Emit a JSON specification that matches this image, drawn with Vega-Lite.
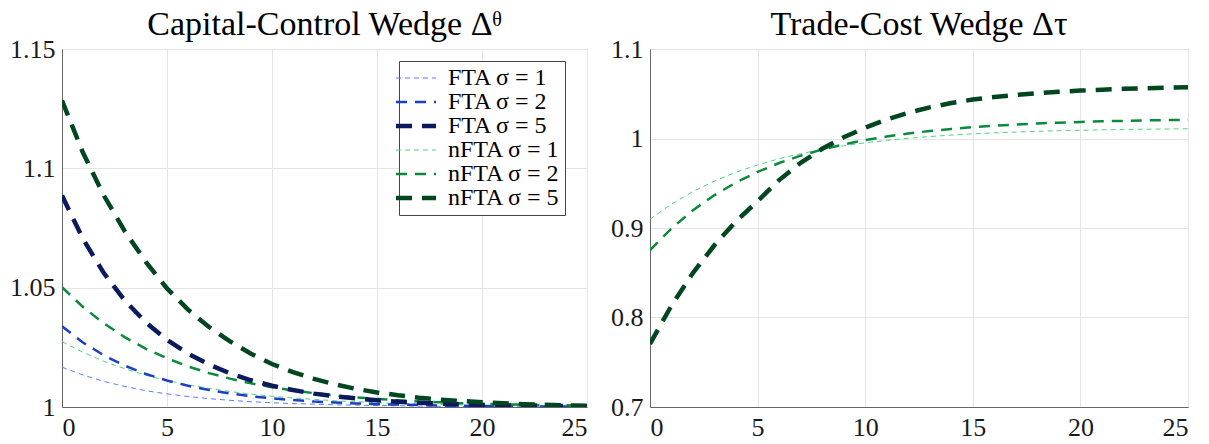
{
  "$schema": "https://vega.github.io/schema/vega-lite/v6.json",
  "padding": {"left": 9, "top": 7, "right": 10, "bottom": 0},
  "spacing": 22,
  "config": {
    "font": "Liberation Serif",
    "view": {"stroke": "#666", "strokeWidth": 1},
    "axis": {"domainColor": "#666", "gridColor": "#e4e4e4", "ticks": false, "labelFont": "Liberation Serif", "labelFontSize": 26, "labelColor": "#1a1a1a", "labelPadding": 7},
    "axisX": {"labelPadding": 7},
    "title": {"font": "Liberation Serif", "fontSize": 34, "fontWeight": "normal", "color": "#000", "baseline": "alphabetic", "offset": -6}
  },
  "datasets": {
    "cc": [
      {"series":"FTA σ = 1","t":0,"v":1.0167},{"series":"FTA σ = 1","t":1,"v":1.0134},{"series":"FTA σ = 1","t":2,"v":1.0107},{"series":"FTA σ = 1","t":3,"v":1.0086},{"series":"FTA σ = 1","t":4,"v":1.0068},{"series":"FTA σ = 1","t":5,"v":1.0055},{"series":"FTA σ = 1","t":6,"v":1.0044},{"series":"FTA σ = 1","t":7,"v":1.0035},{"series":"FTA σ = 1","t":8,"v":1.0028},{"series":"FTA σ = 1","t":9,"v":1.0022},{"series":"FTA σ = 1","t":10,"v":1.0018},{"series":"FTA σ = 1","t":11,"v":1.0014},{"series":"FTA σ = 1","t":12,"v":1.0012},{"series":"FTA σ = 1","t":13,"v":1.0009},{"series":"FTA σ = 1","t":14,"v":1.0008},{"series":"FTA σ = 1","t":15,"v":1.0006},{"series":"FTA σ = 1","t":16,"v":1.0005},{"series":"FTA σ = 1","t":17,"v":1.0004},{"series":"FTA σ = 1","t":18,"v":1.0003},{"series":"FTA σ = 1","t":19,"v":1.0002},{"series":"FTA σ = 1","t":20,"v":1.0002},{"series":"FTA σ = 1","t":21,"v":1.0002},{"series":"FTA σ = 1","t":22,"v":1.0001},{"series":"FTA σ = 1","t":23,"v":1.0001},{"series":"FTA σ = 1","t":24,"v":1.0001},{"series":"FTA σ = 1","t":25,"v":1.0001},
      {"series":"FTA σ = 2","t":0,"v":1.0338},{"series":"FTA σ = 2","t":1,"v":1.0270},{"series":"FTA σ = 2","t":2,"v":1.0216},{"series":"FTA σ = 2","t":3,"v":1.0173},{"series":"FTA σ = 2","t":4,"v":1.0138},{"series":"FTA σ = 2","t":5,"v":1.0111},{"series":"FTA σ = 2","t":6,"v":1.0089},{"series":"FTA σ = 2","t":7,"v":1.0071},{"series":"FTA σ = 2","t":8,"v":1.0057},{"series":"FTA σ = 2","t":9,"v":1.0045},{"series":"FTA σ = 2","t":10,"v":1.0036},{"series":"FTA σ = 2","t":11,"v":1.0029},{"series":"FTA σ = 2","t":12,"v":1.0023},{"series":"FTA σ = 2","t":13,"v":1.0019},{"series":"FTA σ = 2","t":14,"v":1.0015},{"series":"FTA σ = 2","t":15,"v":1.0012},{"series":"FTA σ = 2","t":16,"v":1.0010},{"series":"FTA σ = 2","t":17,"v":1.0008},{"series":"FTA σ = 2","t":18,"v":1.0006},{"series":"FTA σ = 2","t":19,"v":1.0005},{"series":"FTA σ = 2","t":20,"v":1.0004},{"series":"FTA σ = 2","t":21,"v":1.0003},{"series":"FTA σ = 2","t":22,"v":1.0002},{"series":"FTA σ = 2","t":23,"v":1.0002},{"series":"FTA σ = 2","t":24,"v":1.0002},{"series":"FTA σ = 2","t":25,"v":1.0001},
      {"series":"FTA σ = 5","t":0,"v":1.0886},{"series":"FTA σ = 5","t":1,"v":1.0704},{"series":"FTA σ = 5","t":2,"v":1.0560},{"series":"FTA σ = 5","t":3,"v":1.0445},{"series":"FTA σ = 5","t":4,"v":1.0354},{"series":"FTA σ = 5","t":5,"v":1.0281},{"series":"FTA σ = 5","t":6,"v":1.0224},{"series":"FTA σ = 5","t":7,"v":1.0178},{"series":"FTA σ = 5","t":8,"v":1.0141},{"series":"FTA σ = 5","t":9,"v":1.0112},{"series":"FTA σ = 5","t":10,"v":1.0089},{"series":"FTA σ = 5","t":11,"v":1.0071},{"series":"FTA σ = 5","t":12,"v":1.0056},{"series":"FTA σ = 5","t":13,"v":1.0045},{"series":"FTA σ = 5","t":14,"v":1.0036},{"series":"FTA σ = 5","t":15,"v":1.0028},{"series":"FTA σ = 5","t":16,"v":1.0022},{"series":"FTA σ = 5","t":17,"v":1.0018},{"series":"FTA σ = 5","t":18,"v":1.0014},{"series":"FTA σ = 5","t":19,"v":1.0011},{"series":"FTA σ = 5","t":20,"v":1.0009},{"series":"FTA σ = 5","t":21,"v":1.0007},{"series":"FTA σ = 5","t":22,"v":1.0006},{"series":"FTA σ = 5","t":23,"v":1.0005},{"series":"FTA σ = 5","t":24,"v":1.0004},{"series":"FTA σ = 5","t":25,"v":1.0003},
      {"series":"nFTA σ = 1","t":0,"v":1.0274},{"series":"nFTA σ = 1","t":1,"v":1.0229},{"series":"nFTA σ = 1","t":2,"v":1.0191},{"series":"nFTA σ = 1","t":3,"v":1.0160},{"series":"nFTA σ = 1","t":4,"v":1.0133},{"series":"nFTA σ = 1","t":5,"v":1.0111},{"series":"nFTA σ = 1","t":6,"v":1.0093},{"series":"nFTA σ = 1","t":7,"v":1.0078},{"series":"nFTA σ = 1","t":8,"v":1.0065},{"series":"nFTA σ = 1","t":9,"v":1.0054},{"series":"nFTA σ = 1","t":10,"v":1.0045},{"series":"nFTA σ = 1","t":11,"v":1.0038},{"series":"nFTA σ = 1","t":12,"v":1.0032},{"series":"nFTA σ = 1","t":13,"v":1.0026},{"series":"nFTA σ = 1","t":14,"v":1.0022},{"series":"nFTA σ = 1","t":15,"v":1.0018},{"series":"nFTA σ = 1","t":16,"v":1.0015},{"series":"nFTA σ = 1","t":17,"v":1.0013},{"series":"nFTA σ = 1","t":18,"v":1.0011},{"series":"nFTA σ = 1","t":19,"v":1.0009},{"series":"nFTA σ = 1","t":20,"v":1.0008},{"series":"nFTA σ = 1","t":21,"v":1.0006},{"series":"nFTA σ = 1","t":22,"v":1.0005},{"series":"nFTA σ = 1","t":23,"v":1.0004},{"series":"nFTA σ = 1","t":24,"v":1.0004},{"series":"nFTA σ = 1","t":25,"v":1.0003},
      {"series":"nFTA σ = 2","t":0,"v":1.0502},{"series":"nFTA σ = 2","t":1,"v":1.0419},{"series":"nFTA σ = 2","t":2,"v":1.0350},{"series":"nFTA σ = 2","t":3,"v":1.0292},{"series":"nFTA σ = 2","t":4,"v":1.0244},{"series":"nFTA σ = 2","t":5,"v":1.0204},{"series":"nFTA σ = 2","t":6,"v":1.0170},{"series":"nFTA σ = 2","t":7,"v":1.0142},{"series":"nFTA σ = 2","t":8,"v":1.0119},{"series":"nFTA σ = 2","t":9,"v":1.0099},{"series":"nFTA σ = 2","t":10,"v":1.0083},{"series":"nFTA σ = 2","t":11,"v":1.0069},{"series":"nFTA σ = 2","t":12,"v":1.0058},{"series":"nFTA σ = 2","t":13,"v":1.0048},{"series":"nFTA σ = 2","t":14,"v":1.0040},{"series":"nFTA σ = 2","t":15,"v":1.0034},{"series":"nFTA σ = 2","t":16,"v":1.0028},{"series":"nFTA σ = 2","t":17,"v":1.0023},{"series":"nFTA σ = 2","t":18,"v":1.0020},{"series":"nFTA σ = 2","t":19,"v":1.0016},{"series":"nFTA σ = 2","t":20,"v":1.0014},{"series":"nFTA σ = 2","t":21,"v":1.0011},{"series":"nFTA σ = 2","t":22,"v":1.0010},{"series":"nFTA σ = 2","t":23,"v":1.0008},{"series":"nFTA σ = 2","t":24,"v":1.0007},{"series":"nFTA σ = 2","t":25,"v":1.0005},
      {"series":"nFTA σ = 5","t":0,"v":1.1284},{"series":"nFTA σ = 5","t":1,"v":1.1065},{"series":"nFTA σ = 5","t":2,"v":1.0885},{"series":"nFTA σ = 5","t":3,"v":1.0735},{"series":"nFTA σ = 5","t":4,"v":1.0607},{"series":"nFTA σ = 5","t":5,"v":1.0497},{"series":"nFTA σ = 5","t":6,"v":1.0408},{"series":"nFTA σ = 5","t":7,"v":1.0335},{"series":"nFTA σ = 5","t":8,"v":1.0275},{"series":"nFTA σ = 5","t":9,"v":1.0223},{"series":"nFTA σ = 5","t":10,"v":1.0180},{"series":"nFTA σ = 5","t":11,"v":1.0146},{"series":"nFTA σ = 5","t":12,"v":1.0118},{"series":"nFTA σ = 5","t":13,"v":1.0095},{"series":"nFTA σ = 5","t":14,"v":1.0076},{"series":"nFTA σ = 5","t":15,"v":1.0061},{"series":"nFTA σ = 5","t":16,"v":1.0049},{"series":"nFTA σ = 5","t":17,"v":1.0039},{"series":"nFTA σ = 5","t":18,"v":1.0031},{"series":"nFTA σ = 5","t":19,"v":1.0025},{"series":"nFTA σ = 5","t":20,"v":1.0020},{"series":"nFTA σ = 5","t":21,"v":1.0016},{"series":"nFTA σ = 5","t":22,"v":1.0012},{"series":"nFTA σ = 5","t":23,"v":1.0009},{"series":"nFTA σ = 5","t":24,"v":1.0007},{"series":"nFTA σ = 5","t":25,"v":1.0005}
    ],
    "tc": [
      {"series":"nFTA σ = 1","t":0,"v":0.9098},{"series":"nFTA σ = 1","t":1,"v":0.9267},{"series":"nFTA σ = 1","t":2,"v":0.9408},{"series":"nFTA σ = 1","t":3,"v":0.9525},{"series":"nFTA σ = 1","t":4,"v":0.9623},{"series":"nFTA σ = 1","t":5,"v":0.9705},{"series":"nFTA σ = 1","t":6,"v":0.9774},{"series":"nFTA σ = 1","t":7,"v":0.9831},{"series":"nFTA σ = 1","t":8,"v":0.9878},{"series":"nFTA σ = 1","t":9,"v":0.9918},{"series":"nFTA σ = 1","t":10,"v":0.9952},{"series":"nFTA σ = 1","t":11,"v":0.9979},{"series":"nFTA σ = 1","t":12,"v":1.0003},{"series":"nFTA σ = 1","t":13,"v":1.0022},{"series":"nFTA σ = 1","t":14,"v":1.0038},{"series":"nFTA σ = 1","t":15,"v":1.0052},{"series":"nFTA σ = 1","t":16,"v":1.0063},{"series":"nFTA σ = 1","t":17,"v":1.0072},{"series":"nFTA σ = 1","t":18,"v":1.0080},{"series":"nFTA σ = 1","t":19,"v":1.0087},{"series":"nFTA σ = 1","t":20,"v":1.0092},{"series":"nFTA σ = 1","t":21,"v":1.0097},{"series":"nFTA σ = 1","t":22,"v":1.0101},{"series":"nFTA σ = 1","t":23,"v":1.0104},{"series":"nFTA σ = 1","t":24,"v":1.0106},{"series":"nFTA σ = 1","t":25,"v":1.0109},
      {"series":"nFTA σ = 2","t":0,"v":0.8753},{"series":"nFTA σ = 2","t":1,"v":0.8996},{"series":"nFTA σ = 2","t":2,"v":0.9199},{"series":"nFTA σ = 2","t":3,"v":0.9368},{"series":"nFTA σ = 2","t":4,"v":0.9509},{"series":"nFTA σ = 2","t":5,"v":0.9627},{"series":"nFTA σ = 2","t":6,"v":0.9726},{"series":"nFTA σ = 2","t":7,"v":0.9808},{"series":"nFTA σ = 2","t":8,"v":0.9877},{"series":"nFTA σ = 2","t":9,"v":0.9935},{"series":"nFTA σ = 2","t":10,"v":0.9982},{"series":"nFTA σ = 2","t":11,"v":1.0022},{"series":"nFTA σ = 2","t":12,"v":1.0056},{"series":"nFTA σ = 2","t":13,"v":1.0084},{"series":"nFTA σ = 2","t":14,"v":1.0107},{"series":"nFTA σ = 2","t":15,"v":1.0126},{"series":"nFTA σ = 2","t":16,"v":1.0143},{"series":"nFTA σ = 2","t":17,"v":1.0156},{"series":"nFTA σ = 2","t":18,"v":1.0168},{"series":"nFTA σ = 2","t":19,"v":1.0177},{"series":"nFTA σ = 2","t":20,"v":1.0185},{"series":"nFTA σ = 2","t":21,"v":1.0192},{"series":"nFTA σ = 2","t":22,"v":1.0197},{"series":"nFTA σ = 2","t":23,"v":1.0202},{"series":"nFTA σ = 2","t":24,"v":1.0206},{"series":"nFTA σ = 2","t":25,"v":1.0209},
      {"series":"nFTA σ = 5","t":0,"v":0.7705},{"series":"nFTA σ = 5","t":1,"v":0.8134},{"series":"nFTA σ = 5","t":2,"v":0.8499},{"series":"nFTA σ = 5","t":3,"v":0.8810},{"series":"nFTA σ = 5","t":4,"v":0.9075},{"series":"nFTA σ = 5","t":5,"v":0.9300},{"series":"nFTA σ = 5","t":6,"v":0.9535},{"series":"nFTA σ = 5","t":7,"v":0.9728},{"series":"nFTA σ = 5","t":8,"v":0.9885},{"series":"nFTA σ = 5","t":9,"v":1.0014},{"series":"nFTA σ = 5","t":10,"v":1.0120},{"series":"nFTA σ = 5","t":11,"v":1.0213},{"series":"nFTA σ = 5","t":12,"v":1.0288},{"series":"nFTA σ = 5","t":13,"v":1.0348},{"series":"nFTA σ = 5","t":14,"v":1.0396},{"series":"nFTA σ = 5","t":15,"v":1.0435},{"series":"nFTA σ = 5","t":16,"v":1.0463},{"series":"nFTA σ = 5","t":17,"v":1.0487},{"series":"nFTA σ = 5","t":18,"v":1.0506},{"series":"nFTA σ = 5","t":19,"v":1.0522},{"series":"nFTA σ = 5","t":20,"v":1.0535},{"series":"nFTA σ = 5","t":21,"v":1.0546},{"series":"nFTA σ = 5","t":22,"v":1.0555},{"series":"nFTA σ = 5","t":23,"v":1.0562},{"series":"nFTA σ = 5","t":24,"v":1.0568},{"series":"nFTA σ = 5","t":25,"v":1.0573}
    ]
  },
  "resolve": {
    "scale": {"color": "independent", "strokeDash": "independent"},
    "legend": {"color": "independent", "strokeDash": "independent"}
  },
  "hconcat": [
    {
      "width": 525,
      "height": 358,
      "title": {"text": "Capital-Control Wedge Δᶿ"},
      "data": {"name": "cc"},
      "encoding": {
        "x": {"field": "t", "type": "quantitative", "scale": {"domain": [0, 25], "nice": false}, "axis": {"values": [0, 5, 10, 15, 20, 25], "title": null}},
        "y": {"field": "v", "type": "quantitative", "scale": {"domain": [1, 1.15], "nice": false, "zero": false}, "axis": {"values": [1, 1.05, 1.1, 1.15], "format": "~f", "title": null}},
        "color": {"field": "series", "type": "nominal",
          "scale": {"domain": ["FTA σ = 1", "FTA σ = 2", "FTA σ = 5", "nFTA σ = 1", "nFTA σ = 2", "nFTA σ = 5"], "range": ["#5b7cff", "#1d3fc4", "#0a1a5c", "#4fd37f", "#0c8a3c", "#00461f"]},
          "legend": {"orient": "none", "legendX": 337, "legendY": 12, "title": null, "fillColor": "white", "strokeColor": "#444", "padding": 5, "symbolType": "stroke", "symbolSize": 1600, "symbolStrokeWidth": 2.5, "labelFontSize": 24, "labelFont": "Liberation Serif", "labelColor": "#000", "rowPadding": -9, "labelOffset": 20,
            "encode": {"symbols": {"update": {"strokeWidth": {"signal": "datum.index % 3 == 2 ? 4.5 : (datum.index % 3 == 1 ? 2.5 : 1)"}}}}}},
        "strokeDash": {"field": "series", "type": "nominal",
          "scale": {"domain": ["FTA σ = 1", "FTA σ = 2", "FTA σ = 5", "nFTA σ = 1", "nFTA σ = 2", "nFTA σ = 5"], "range": [[5, 4], [11, 8], [16, 10], [5, 4], [11, 8], [16, 10]]}}
      },
      "layer": [
        {"transform": [{"filter": {"field": "series", "oneOf": ["FTA σ = 1", "nFTA σ = 1"]}}], "mark": {"type": "line", "clip": true, "strokeWidth": 1}},
        {"transform": [{"filter": {"field": "series", "oneOf": ["FTA σ = 2", "nFTA σ = 2"]}}], "mark": {"type": "line", "clip": true, "strokeWidth": 2.5}},
        {"transform": [{"filter": {"field": "series", "oneOf": ["FTA σ = 5", "nFTA σ = 5"]}}], "mark": {"type": "line", "clip": true, "strokeWidth": 4.5}}
      ]
    },
    {
      "width": 538,
      "height": 358,
      "title": {"text": "Trade-Cost Wedge Δτ"},
      "data": {"name": "tc"},
      "encoding": {
        "x": {"field": "t", "type": "quantitative", "scale": {"domain": [0, 25], "nice": false}, "axis": {"values": [0, 5, 10, 15, 20, 25], "title": null}},
        "y": {"field": "v", "type": "quantitative", "scale": {"domain": [0.7, 1.1], "nice": false, "zero": false}, "axis": {"values": [0.7, 0.8, 0.9, 1, 1.1], "format": "~f", "title": null}},
        "color": {"field": "series", "type": "nominal",
          "scale": {"domain": ["nFTA σ = 1", "nFTA σ = 2", "nFTA σ = 5"], "range": ["#4fd37f", "#0c8a3c", "#00461f"]}, "legend": null},
        "strokeDash": {"field": "series", "type": "nominal",
          "scale": {"domain": ["nFTA σ = 1", "nFTA σ = 2", "nFTA σ = 5"], "range": [[5, 4], [11, 8], [16, 10]]}, "legend": null}
      },
      "layer": [
        {"transform": [{"filter": {"field": "series", "equal": "nFTA σ = 1"}}], "mark": {"type": "line", "clip": true, "strokeWidth": 1}},
        {"transform": [{"filter": {"field": "series", "equal": "nFTA σ = 2"}}], "mark": {"type": "line", "clip": true, "strokeWidth": 2.5}},
        {"transform": [{"filter": {"field": "series", "equal": "nFTA σ = 5"}}], "mark": {"type": "line", "clip": true, "strokeWidth": 4.5}}
      ]
    }
  ]
}
